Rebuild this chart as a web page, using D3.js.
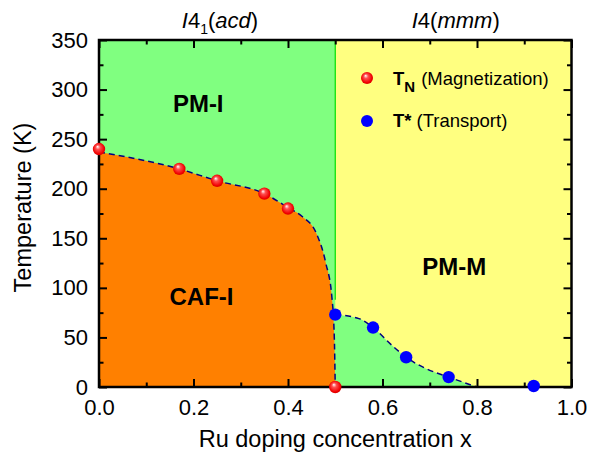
<!DOCTYPE html>
<html>
<head>
<meta charset="utf-8">
<script src="https://cdn.jsdelivr.net/npm/d3@7"></script>
<style>
  body { margin: 0; background: #fff; }
  svg text { font-family: "Liberation Sans", Arial, sans-serif; fill: #000; }
</style>
</head>
<body>
<div id="chart"></div>
<script>
// --- data ---
const tnX = [0, 0.17, 0.25, 0.35, 0.40, 0.50];
const tnT = [240, 220, 208, 195, 180, 0];
const tsX = [0.50, 0.58, 0.65, 0.74, 0.92];
const tsT = [73, 60, 30, 10, 1];

// phase boundaries (dashed lines)
const afBoundX = [0, 0.17, 0.25, 0.35, 0.40, 0.43, 0.46, 0.48, 0.493, 0.498, 0.5];
const afBoundT = [237, 220, 208, 195, 181, 172, 155, 125, 90, 50, 0];
const mBoundX = [0.5, 0.55, 0.58, 0.62, 0.65, 0.69, 0.74, 0.8];
const mBoundT = [73, 69, 60, 42, 30, 19, 10, 0];

const xTicks = [0, 0.2, 0.4, 0.6, 0.8, 1.0];
const yTicks = [0, 50, 100, 150, 200, 250, 300, 350];

const margin = { top: 40, right: 17.5, bottom: 70, left: 99 };
const W = 589, H = 457;
const width = W - margin.left - margin.right;
const height = H - margin.top - margin.bottom;

const svg = d3.select("#chart").append("svg")
    .attr("width", W).attr("height", H);

const defs = svg.append("defs");
const grad = defs.append("radialGradient").attr("id", "ball")
    .attr("cx", "0.5").attr("cy", "0.5").attr("r", "0.6")
    .attr("fx", "0.38").attr("fy", "0.3");
grad.append("stop").attr("offset", "0").attr("stop-color", "#ffffff");
grad.append("stop").attr("offset", "0.3").attr("stop-color", "#ff5050");
grad.append("stop").attr("offset", "0.75").attr("stop-color", "#f00000");
grad.append("stop").attr("offset", "1").attr("stop-color", "#c00000");

defs.append("clipPath").attr("id", "clip")
  .append("rect").attr("width", width).attr("height", height);

const g = svg.append("g").attr("transform", `translate(${margin.left},${margin.top})`);

const x = d3.scaleLinear().domain([0, 1]).range([0, width]);
const y = d3.scaleLinear().domain([0, 350]).range([height, 0]);

const plot = g.append("g").attr("clip-path", "url(#clip)");

// PM-I background (green)
plot.append("rect").attr("width", width).attr("height", height).attr("fill", "#80ff80");

const mPts = mBoundX.map((v, i) => [v, mBoundT[i]]);
const afPts = afBoundX.map((v, i) => [v, afBoundT[i]]);

const line = d3.line().x(d => x(d[0])).y(d => y(d[1])).curve(d3.curveMonotoneX);

// PM-M (yellow)
const yellowPath = `M${x(0.5)},${y(350)}L${x(1)},${y(350)}L${x(1)},${y(0)}L${x(0.8)},${y(0)}`
    + line(mPts.slice().reverse()).replace(/^M/, "L") + "Z";
plot.append("path").attr("d", yellowPath).attr("fill", "#ffff80");

// green vertical structural boundary
plot.append("line")
    .attr("x1", x(0.5)).attr("x2", x(0.5))
    .attr("y1", y(350)).attr("y2", y(88))
    .attr("stroke", "#00e000").attr("stroke-width", 1.2);

// CAF-I (orange)
const orangePath = `M${x(0)},${y(0)}L${x(0)},${y(afBoundT[0])}`
    + line(afPts).replace(/^M/, "L") + "Z";
plot.append("path").attr("d", orangePath).attr("fill", "#ff8000");

// dashed boundaries
[afPts, mPts].forEach(pts => {
  plot.append("path").attr("d", line(pts))
      .attr("fill", "none").attr("stroke", "#000080")
      .attr("stroke-width", 1.5).attr("stroke-dasharray", "6,4");
});

// region labels
const lab = (t, px, py) => g.append("text").attr("x", x(px)).attr("y", y(py))
    .attr("text-anchor", "middle").attr("font-size", 24).attr("font-weight", "bold").text(t);
lab("PM-I", 0.21, 277);
lab("CAF-I", 0.217, 83);
lab("PM-M", 0.752, 113);

// axes (frame with inward ticks on all four sides)
const axisStyle = sel => {
  sel.select(".domain").remove();
  sel.selectAll(".tick line").attr("stroke", "#000").attr("stroke-width", 2);
  sel.selectAll("text").attr("font-size", 22);
};
const minorX = d3.range(0.1, 1, 0.2);
const minorY = d3.range(25, 350, 50);

const axBottom = g.append("g").attr("transform", `translate(0,${height})`)
    .call(d3.axisBottom(x).tickValues(xTicks).tickFormat(d3.format(".1f")).tickSizeInner(-8).tickPadding(12));
axisStyle(axBottom);
const axLeft = g.append("g")
    .call(d3.axisLeft(y).tickValues(yTicks).tickSizeInner(-8).tickPadding(11));
axisStyle(axLeft);
const axTop = g.append("g")
    .call(d3.axisTop(x).tickValues(xTicks).tickSizeInner(-8).tickFormat(""));
axisStyle(axTop);
const axRight = g.append("g").attr("transform", `translate(${width},0)`)
    .call(d3.axisRight(y).tickValues(yTicks).tickSizeInner(-8).tickFormat(""));
axisStyle(axRight);

// minor ticks
[[d3.axisBottom, `translate(0,${height})`], [d3.axisTop, null]].forEach(([ax, tr]) => {
  const m = g.append("g").call(ax(x).tickValues(minorX).tickSizeInner(-4.5).tickFormat(""));
  if (tr) m.attr("transform", tr);
  axisStyle(m);
});
[[d3.axisLeft, null], [d3.axisRight, `translate(${width},0)`]].forEach(([ax, tr]) => {
  const m = g.append("g").call(ax(y).tickValues(minorY).tickSizeInner(-4.5).tickFormat(""));
  if (tr) m.attr("transform", tr);
  axisStyle(m);
});

g.append("rect").attr("width", width).attr("height", height)
    .attr("fill", "none").attr("stroke", "#000").attr("stroke-width", 2.5);

// data points
const tsPts = tsX.map((v, i) => [v, tsT[i]]);
const tnPts = tnX.map((v, i) => [v, tnT[i]]);
g.selectAll(".ts").data(tsPts).enter().append("circle")
    .attr("cx", d => x(d[0])).attr("cy", d => y(d[1])).attr("r", 6.2).attr("fill", "#0000ff");
g.selectAll(".tn").data(tnPts).enter().append("circle")
    .attr("cx", d => x(d[0])).attr("cy", d => y(d[1])).attr("r", 6.2).attr("fill", "url(#ball)");

// legend
const lg = g.append("g");
lg.append("circle").attr("cx", 268).attr("cy", 38).attr("r", 6).attr("fill", "url(#ball)");
lg.append("circle").attr("cx", 268).attr("cy", 81).attr("r", 6).attr("fill", "#0000ff");
const t1 = lg.append("text").attr("x", 294).attr("y", 45).attr("font-size", 18.5);
t1.append("tspan").attr("font-weight", "bold").text("T");
t1.append("tspan").attr("font-weight", "bold").attr("font-size", 15).attr("dy", 7).text("N");
t1.append("tspan").attr("dy", -7).attr("dx", 6).text("(Magnetization)");
const t2 = lg.append("text").attr("x", 294).attr("y", 87).attr("font-size", 18.5);
t2.append("tspan").attr("font-weight", "bold").text("T*");
t2.append("tspan").attr("dx", 5).text("(Transport)");

// structure labels on top
const s1 = g.append("text").attr("x", x(0.256)).attr("y", -12).attr("text-anchor", "middle").attr("font-size", 22);
s1.append("tspan").attr("font-style", "italic").text("I");
s1.append("tspan").text("4");
s1.append("tspan").attr("font-size", 14).attr("dy", 6).text("1");
s1.append("tspan").attr("dy", -6).text("(");
s1.append("tspan").attr("font-style", "italic").text("acd");
s1.append("tspan").text(")");
const s2 = g.append("text").attr("x", x(0.755)).attr("y", -12).attr("text-anchor", "middle").attr("font-size", 22);
s2.append("tspan").attr("font-style", "italic").text("I");
s2.append("tspan").text("4(");
s2.append("tspan").attr("font-style", "italic").text("mmm");
s2.append("tspan").text(")");

// axis titles
g.append("text").attr("x", width / 2).attr("y", height + 60)
    .attr("text-anchor", "middle").attr("font-size", 23.5).text("Ru doping concentration x");
g.append("text").attr("transform", `translate(-68,${height / 2 - 6}) rotate(-90)`)
    .attr("text-anchor", "middle").attr("font-size", 23.5).text("Temperature (K)");
</script>
</body>
</html>
